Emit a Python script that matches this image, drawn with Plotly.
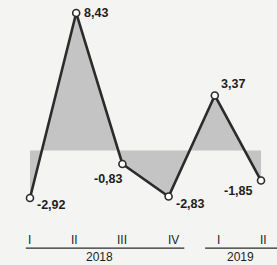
import plotly.graph_objects as go

quarters = ["I", "II", "III", "IV", "I", "II"]
years = ["2018", "2019"]
year_spans = [(0, 3), (4, 5)]
values = [-2.92, 8.43, -0.83, -2.83, 3.37, -1.85]
labels = ["-2,92", "8,43", "-0,83", "-2,83", "3,37", "-1,85"]
label_offsets = [(5, -7, "left"), (6, 0, "left"), (3, -15, "right"), (5, -7, "left"), (4, 11, "left"), (-6, -10, "right")]
tick_shifts = [0, -2, 0, 5, 4, 2]

xs = list(range(len(values)))
FONT = "Liberation Sans, Arial, sans-serif"
INK = "#2b2b2b"

fig = go.Figure()
fig.add_trace(go.Scatter(
    x=xs, y=values, mode="lines", fill="tozeroy",
    fillcolor="#c4c4c4", line=dict(color=INK, width=2.6),
    hoverinfo="skip", showlegend=False))
fig.add_trace(go.Scatter(
    x=xs, y=values, mode="markers",
    marker=dict(size=7, color="white", line=dict(color=INK, width=1.6)),
    showlegend=False))

for x, v, t, (dx, dy, anc) in zip(xs, values, labels, label_offsets):
    fig.add_annotation(x=x, y=v, text="<b>" + t + "</b>", showarrow=False,
                       xanchor=anc, yanchor="middle", xshift=dx, yshift=dy,
                       font=dict(family=FONT, size=12.5, color="#1e1e1e"))

for x, q, s in zip(xs, quarters, tick_shifts):
    fig.add_annotation(x=x, y=0.096, xref="x", yref="paper", text=q, showarrow=False,
                       xanchor="center", yanchor="middle", xshift=s,
                       font=dict(family=FONT, size=12, color="#1e1e1e"))

for (a, b), yr in zip(year_spans, years):
    x0 = a - 0.09 if a == 0 else a - 0.21
    x1 = b + 0.34 if b == 3 else b + 0.40
    fig.add_shape(type="line", x0=x0, x1=x1, y0=0.064, y1=0.064, xref="x", yref="paper",
                  line=dict(color=INK, width=1.3))
    fig.add_annotation(x=(a + b) / 2 + (0.0 if b == 3 else 0.05), y=0.031, xref="x", yref="paper",
                       text=yr, showarrow=False, xanchor="center", yanchor="middle",
                       font=dict(family=FONT, size=12, color="#1e1e1e"))

fig.update_layout(
    width=277, height=265, margin=dict(l=0, r=0, t=0, b=0),
    paper_bgcolor="#f4f4f2", plot_bgcolor="#f4f4f2",
    xaxis=dict(range=[-0.649, 5.346], visible=False, fixedrange=True),
    yaxis=dict(range=[-7.03, 9.227], visible=False, fixedrange=True),
)
fig.write_html("out.html", config={"displayModeBar": False},
               post_script="document.body.style.margin='0';document.body.style.overflow='hidden';")
